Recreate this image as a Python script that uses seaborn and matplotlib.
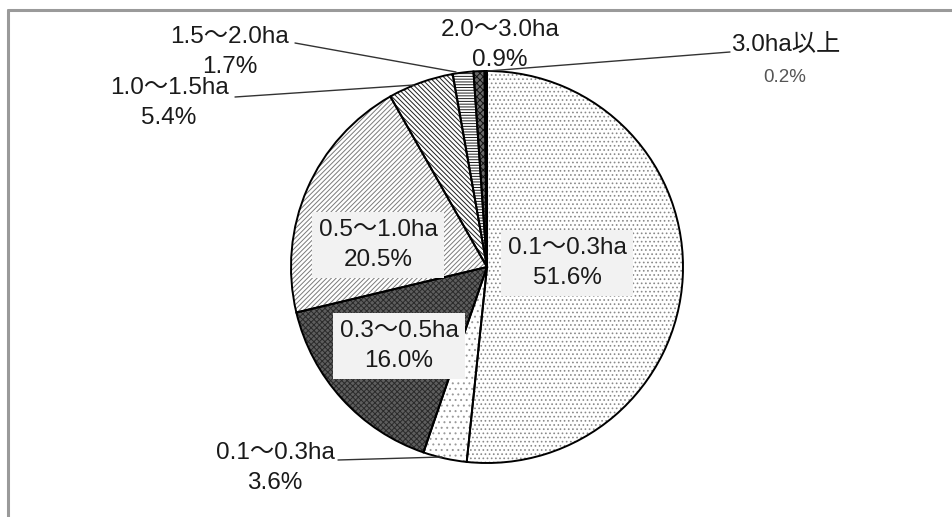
import matplotlib
matplotlib.use("Agg")
import matplotlib.pyplot as plt
import seaborn as sns
from matplotlib.lines import Line2D

# Farm size classes and their share of households (%)
size_classes = ["0.1～0.3ha", "0.1～0.3ha", "0.3～0.5ha", "0.5～1.0ha",
                "1.0～1.5ha", "1.5～2.0ha", "2.0～3.0ha", "3.0ha以上"]
shares = [51.6, 3.6, 16.0, 20.5, 5.4, 1.7, 0.9, 0.2]

sns.set_theme(style="white")
plt.rcParams["font.family"] = ["Liberation Sans", "Noto Sans CJK JP"]
plt.rcParams["hatch.linewidth"] = 0.7

W, H = 952, 517
fig = plt.figure(figsize=(W / 100, H / 100), dpi=100)
ax = fig.add_axes([0, 0, 1, 1])


def Y(y):
    """Convert a top-down pixel row into the axes' bottom-up coordinate."""
    return H - y


center = (487, Y(267))
radius = 196

wedges, _ = ax.pie(shares, startangle=90, counterclock=False,
                   center=center, radius=radius,
                   wedgeprops=dict(linewidth=0))

# fill colour, hatch, hatch colour for each slice
styles = [
    ("#ffffff", "....", "#8a8a8a"),
    ("#ffffff", "...", "#9a9a9a"),
    ("#5e5e5e", "xxxxxx", "#2a2a2a"),
    ("#ffffff", "///////", "#7a7a7a"),
    ("#ffffff", "\\\\\\\\\\\\\\", "#1e1e1e"),
    ("#ffffff", "------", "#1e1e1e"),
    ("#6a6a6a", "xxxxx", "#111111"),
    ("#000000", "", "#000000"),
]
for w, (fc, hatch, hc) in zip(wedges, styles):
    w.set_facecolor(fc)
    w.set_hatch(hatch)
    w.set_edgecolor(hc)
    w.set_linewidth(0)

# black outlines of all slices
ax.pie(shares, startangle=90, counterclock=False, center=center, radius=radius,
       wedgeprops=dict(fill=False, edgecolor="black", linewidth=1.4))

ax.set_aspect("equal")
ax.set_xlim(0, W)
ax.set_ylim(0, H)
ax.axis("off")

fs = 17.5
ls = 1.5
box = dict(boxstyle="square,pad=0.28", fc="#f2f2f2", ec="none")

# labels inside the pie
inside = {0: (567, 263), 3: (378, 245), 2: (399, 346)}
for i, (x, y) in inside.items():
    ax.text(x, Y(y), f"{size_classes[i]}\n{shares[i]:.1f}%", ha="center",
            va="center", fontsize=fs, color="#1a1a1a", linespacing=ls,
            bbox=box)

# labels outside the pie with leader lines
outside = {
    1: ((275, 468), [(338, 460), (442, 457)]),
    4: ((169, 103), [(235, 97), (414, 85)]),
    5: ((230, 52), [(295, 43), (456, 72)]),
    6: ((500, 45), None),
}
for i, ((x, y), leader) in outside.items():
    ax.text(x, Y(y), f"{size_classes[i]}\n{shares[i]:.1f}%", ha="center",
            va="center", fontsize=fs, color="#1a1a1a", linespacing=ls)
    if leader:
        ax.plot([p[0] for p in leader], [Y(p[1]) for p in leader],
                color="#333333", lw=1.0)

# the smallest class
ax.text(786, Y(45), size_classes[7], ha="center", va="center",
        fontsize=fs, color="#1a1a1a")
ax.text(785, Y(77), f"{shares[7]:.1f}%", ha="center", va="center",
        fontsize=13.5, color="#555555")
ax.plot([730, 488], [Y(52), Y(71)], color="#333333", lw=1.0)

# grey frame along the top and left edges
fig.add_artist(Line2D([8 / W, 1], [1 - 10 / H, 1 - 10 / H],
                      color="#9a9a9a", lw=2.2, transform=fig.transFigure))
fig.add_artist(Line2D([8 / W, 8 / W], [1 - 10 / H, 0],
                      color="#9a9a9a", lw=2.2, transform=fig.transFigure))

fig.savefig("out.png", dpi=100, facecolor="white")
